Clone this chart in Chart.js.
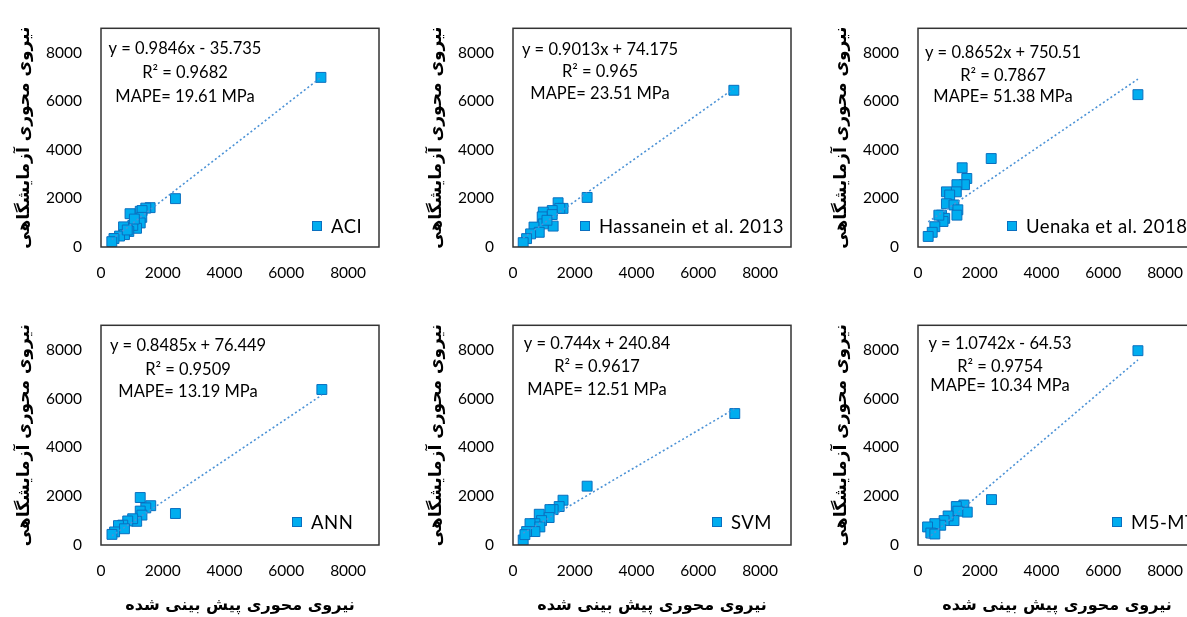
<!DOCTYPE html>
<html>
<head>
<meta charset="utf-8">
<script src="https://cdn.jsdelivr.net/npm/chart.js@4"></script>
<style>
  html, body { margin: 0; padding: 0; background: #fff; overflow: hidden; }
  #wrap { position: relative; width: 1187px; height: 617px; overflow: hidden; }
  canvas { position: absolute; }
</style>
</head>
<body>
<div id="wrap">
<canvas id="p0"></canvas>
<canvas id="p1"></canvas>
<canvas id="p2"></canvas>
<canvas id="p3"></canvas>
<canvas id="p4"></canvas>
<canvas id="p5"></canvas>
</div>
<script>
// داده ها
const panelNames = ['ACI', 'Hassanein et al. 2013', 'Uenaka et al. 2018', 'ANN', 'SVM', 'M5-MT'];

const aciX = [7120, 2410, 1590, 1450, 1270, 1330, 940, 1320, 1270, 1150, 1030, 730, 900, 760, 600, 420, 350, 1080, 850];
const aciY = [6980, 1990, 1620, 1600, 1470, 1500, 1370, 1220, 990, 770, 890, 830, 640, 510, 450, 350, 220, 1150, 700];

const hasX = [7150, 2400, 1460, 1620, 1515, 1270, 980, 1270, 945, 1300, 980, 680, 850, 570, 440, 330, 1100];
const hasY = [6450, 2040, 1820, 1590, 1590, 1500, 1435, 1335, 1240, 860, 950, 820, 605, 540, 345, 180, 1100];

const ueX = [7120, 2370, 1430, 1580, 1505, 1260, 1240, 920, 1025, 920, 1165, 1290, 1260, 760, 865, 810, 675, 545, 460, 330];
const ueY = [6270, 3640, 3260, 2820, 2565, 2565, 2270, 2270, 2140, 1780, 1730, 1530, 1310, 1310, 1180, 1050, 1310, 835, 605, 435];

const annX = [7150, 2410, 1270, 1610, 1450, 1270, 1325, 1155, 1025, 865, 705, 565, 760, 440, 355];
const annY = [6370, 1290, 1945, 1610, 1520, 1390, 1225, 970, 1075, 985, 815, 795, 665, 535, 435];

const svmX = [7180, 2400, 1620, 1495, 1300, 1195, 850, 1170, 925, 710, 550, 870, 710, 440, 330, 385];
const svmY = [5385, 2410, 1835, 1575, 1450, 1450, 1260, 1125, 1000, 875, 875, 740, 550, 550, 205, 425];

const m5X = [7120, 2380, 1485, 1240, 1595, 1290, 1165, 975, 845, 735, 545, 310, 415, 545];
const m5Y = [7960, 1860, 1640, 1575, 1345, 1385, 1000, 1190, 1000, 810, 875, 740, 490, 450];

const slopes = [0.9846, 0.9013, 0.8652, 0.8485, 0.744, 1.0742];
const intercepts = [-35.735, 74.175, 750.51, 76.449, 240.84, -64.53];
const equationLabels = ['y = 0.9846x - 35.735', 'y = 0.9013x + 74.175', 'y = 0.8652x + 750.51',
                        'y = 0.8485x + 76.449', 'y = 0.744x + 240.84', 'y = 1.0742x - 64.53'];
const r2Labels = ['R² = 0.9682', 'R² = 0.965', 'R² = 0.7867', 'R² = 0.9509', 'R² = 0.9617', 'R² = 0.9754'];
const mapeLabels = ['MAPE= 19.61 MPa', 'MAPE= 23.51 MPa', 'MAPE= 51.38 MPa',
                    'MAPE= 13.19 MPa', 'MAPE= 12.51 MPa', 'MAPE= 10.34 MPa'];
const axisTicks = [0, 2000, 4000, 6000, 8000];
const axisMax = 9000;
const yTitle = 'نیروی محوری آزمایشگاهی';
const xTitle = 'نیروی محوری پیش بینی شده';

const seriesX = [aciX, hasX, ueX, annX, svmX, m5X];
const seriesY = [aciY, hasY, ueY, annY, svmY, m5Y];

// چیدمان
const colLeft = [0, 412, 817];
const rowTop = [0, 297];
const rowHeight = [290, 320];
const xAxisHeight = [41, 70];
const annoCx = [84, 87, 85, 87, 84, 82];
const annoDy = [[20, 44, 68], [21, 43, 65], [24, 47, 68], [20, 44, 66], [18, 41, 64], [18, 41, 60]];
const legendDx = [216, 72, 94, 196, 204, 199];
const legendDy = [21, 21, 21, 23, 23, 23];

const FILL = '#00adef';
const EDGE = '#0a6fbf';
const FONT = 'Lato, "DejaVu Sans", sans-serif';

const decor = {
    id: 'decor',
    afterDraw(chart, args, opts) {
        const ctx = chart.ctx;
        const a = chart.chartArea;
        const i = opts.idx;
        ctx.save();
        ctx.strokeStyle = '#333';
        ctx.lineWidth = 1.5;
        ctx.strokeRect(a.left, a.top, a.right - a.left, a.bottom - a.top);

        ctx.fillStyle = '#000';
        ctx.font = '16.5px ' + FONT;
        ctx.textAlign = 'center';
        ctx.textBaseline = 'middle';
        const cx = a.left + annoCx[i];
        ctx.fillText(equationLabels[i], cx, a.top + annoDy[i][0]);
        ctx.fillText(r2Labels[i], cx, a.top + annoDy[i][1]);
        ctx.fillText(mapeLabels[i], cx, a.top + annoDy[i][2]);

        // legend
        const lx = a.left + legendDx[i];
        const ly = a.bottom - legendDy[i];
        ctx.fillStyle = FILL;
        ctx.strokeStyle = EDGE;
        ctx.lineWidth = 1;
        ctx.fillRect(lx - 4.5, ly - 4.5, 9, 9);
        ctx.strokeRect(lx - 4.5, ly - 4.5, 9, 9);
        ctx.fillStyle = '#000';
        ctx.textAlign = 'left';
        ctx.font = '18.5px ' + FONT;
        ctx.letterSpacing = '0.5px';
        ctx.fillText(panelNames[i], lx + 14, ly + 1);
        ctx.restore();
    }
};

for (let i = 0; i < 6; i++) {
    const row = Math.floor(i / 3);
    const col = i % 3;
    const cv = document.getElementById('p' + i);
    cv.width = 387;
    cv.height = rowHeight[row];
    cv.style.left = colLeft[col] + 'px';
    cv.style.top = rowTop[row] + 'px';

    const xs = seriesX[i];
    const ys = seriesY[i];
    const pts = xs.map((x, k) => ({ x: x, y: ys[k] }));
    const xMin = Math.min(...xs);
    const xMax = Math.max(...xs);
    const trend = [
        { x: xMin, y: slopes[i] * xMin + intercepts[i] },
        { x: xMax, y: slopes[i] * xMax + intercepts[i] }
    ];

    const keepTicks = s => { s.ticks = axisTicks.map(v => ({ value: v })); };

    new Chart(cv.getContext('2d'), {
        type: 'scatter',
        data: {
            datasets: [{
                label: panelNames[i],
                data: pts,
                pointStyle: 'rect',
                pointRadius: 7,
                pointHoverRadius: 7,
                backgroundColor: FILL,
                borderColor: EDGE,
                borderWidth: 1,
                order: 1
            }, {
                type: 'line',
                data: trend,
                borderColor: '#4b92d6',
                borderWidth: 1.6,
                borderDash: [2, 2.5],
                pointRadius: 0,
                fill: false,
                order: 0
            }]
        },
        options: {
            responsive: false,
            animation: false,
            devicePixelRatio: 1,
            layout: { padding: { top: 15, right: 6, left: 0, bottom: 2 } },
            plugins: {
                legend: { display: false },
                tooltip: { enabled: false },
                decor: { idx: i }
            },
            scales: {
                x: {
                    type: 'linear',
                    min: 0,
                    max: axisMax,
                    afterBuildTicks: keepTicks,
                    afterFit: s => { s.height = xAxisHeight[row]; },
                    grid: { display: false, drawTicks: false },
                    border: { display: false },
                    ticks: { color: '#000', padding: 17, font: { family: FONT, size: 15.5 }, maxRotation: 0,
                             callback: v => String(v) },
                    title: {
                        display: row === 1,
                        text: xTitle,
                        color: '#000',
                        padding: { top: 0, bottom: 0 },
                        font: { family: '"DejaVu Sans"', size: 16, weight: 'bold' }
                    }
                },
                y: {
                    type: 'linear',
                    min: 0,
                    max: axisMax,
                    afterBuildTicks: keepTicks,
                    afterFit: s => { s.width = 101; },
                    grid: { display: false, drawTicks: false },
                    border: { display: false },
                    ticks: { color: '#000', padding: 19, font: { family: FONT, size: 15.5 },
                             callback: v => String(v) },
                    title: {
                        display: true,
                        text: yTitle,
                        color: '#000',
                        padding: { top: 14, bottom: 0 },
                        font: { family: '"DejaVu Sans"', size: 17, weight: 'bold' }
                    }
                }
            }
        },
        plugins: [decor]
    });
}
</script>
</body>
</html>
